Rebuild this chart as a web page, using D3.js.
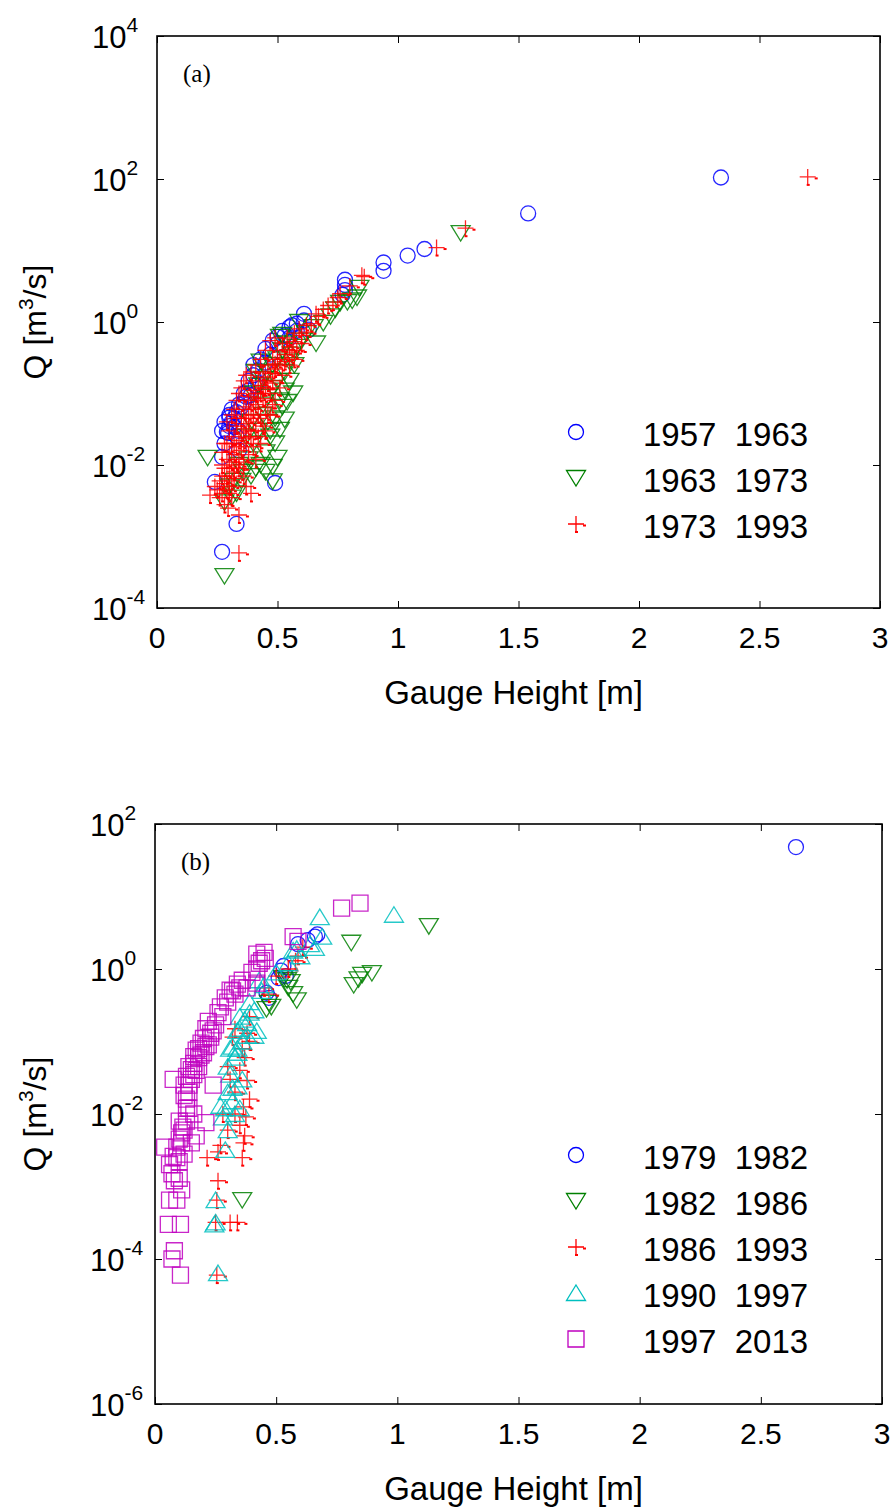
<!DOCTYPE html>
<html>
<head>
<meta charset="utf-8">
<script src="https://cdn.jsdelivr.net/npm/d3@7"></script>
<style>
  body { margin: 0; background: #fff; }
  svg { display: block; }
</style>
</head>
<body>
<div id="chart"></div>
<script>
// ---- data: [gauge height (m), Q (m3/s)] ----

// panel (a)
var circlesA = [
  [2.34, 105], [1.54, 33], [1.11, 10.5], [1.04, 8.5], [0.94, 6.8], [0.94, 5.2],
  [0.78, 3.9], [0.78, 3.3], [0.78, 2.8], [0.77, 2.4], [0.61, 1.3], [0.61, 1.05],
  [0.63, 0.78], [0.58, 0.95], [0.55, 0.85], [0.52, 0.75], [0.50, 0.62], [0.45, 0.42],
  [0.45, 0.27], [0.42, 0.21], [0.42, 0.14], [0.41, 0.13], [0.39, 0.095], [0.37, 0.09],
  [0.36, 0.074], [0.35, 0.065], [0.33, 0.055], [0.30, 0.05], [0.30, 0.046], [0.32, 0.034],
  [0.29, 0.029], [0.295, 0.028], [0.31, 0.04], [0.33, 0.025], [0.34, 0.03], [0.27, 0.013],
  [0.24, 0.0058], [0.49, 0.0056], [0.33, 0.0015], [0.27, 0.00061], [0.38, 0.11], [0.40, 0.18],
  [0.47, 0.35], [0.50, 0.5], [0.55, 0.6], [0.56, 0.9], [0.34, 0.016],
  [0.28, 0.02], [0.30, 0.035], [0.31, 0.06], [0.32, 0.045], [0.34, 0.07], [0.36, 0.1],
  [0.38, 0.15], [0.40, 0.25], [0.43, 0.3], [0.48, 0.55], [0.53, 0.65], [0.58, 0.75],
  [0.28, 0.04], [0.27, 0.03]
];
var trianglesA = [
  [1.26, 17.5], [0.84, 3.0], [0.83, 2.2], [0.81, 2.0], [0.79, 1.9], [0.76, 1.85],
  [0.74, 1.5], [0.72, 1.2], [0.69, 0.97], [0.65, 0.85], [0.59, 1.0], [0.51, 0.62],
  [0.52, 0.66], [0.60, 0.55], [0.58, 0.45], [0.56, 0.35], [0.55, 0.28], [0.43, 0.28],
  [0.41, 0.2], [0.53, 0.2], [0.565, 0.10], [0.54, 0.076], [0.52, 0.065], [0.53, 0.043],
  [0.51, 0.031], [0.49, 0.02], [0.50, 0.0126], [0.48, 0.0094], [0.48, 0.0059], [0.47, 0.025],
  [0.46, 0.04], [0.45, 0.015], [0.44, 0.05], [0.42, 0.03], [0.40, 0.02], [0.38, 0.012],
  [0.36, 0.008], [0.35, 0.006], [0.33, 0.004], [0.21, 0.0126], [0.28, 0.003], [0.28, 0.00028],
  [0.31, 0.0035], [0.50, 0.15], [0.48, 0.12], [0.46, 0.09], [0.44, 0.07], [0.62, 0.7],
  [0.66, 0.5], [0.57, 0.25], [0.39, 0.04], [0.37, 0.025],
  [0.40, 0.1], [0.42, 0.13], [0.44, 0.16], [0.46, 0.2], [0.48, 0.25], [0.50, 0.3],
  [0.52, 0.4], [0.54, 0.5], [0.49, 0.045], [0.47, 0.03], [0.51, 0.08], [0.53, 0.11],
  [0.55, 0.15], [0.43, 0.01], [0.41, 0.009], [0.39, 0.007], [0.45, 0.008], [0.34, 0.01],
  [0.32, 0.006], [0.30, 0.005]
];
var plusesA = [
  [2.70, 107], [1.28, 20.5], [1.16, 11], [0.86, 4.3], [0.85, 4.5], [0.80, 3.2],
  [0.76, 2.5], [0.75, 2.2], [0.73, 1.9], [0.71, 1.7], [0.69, 1.5], [0.67, 1.2],
  [0.66, 1.3], [0.64, 0.95], [0.62, 0.72], [0.60, 0.65], [0.565, 0.53], [0.60, 0.5],
  [0.55, 0.45], [0.54, 0.41], [0.53, 0.35], [0.51, 0.3], [0.50, 0.25], [0.49, 0.22],
  [0.47, 0.19], [0.48, 0.15], [0.46, 0.14], [0.45, 0.12], [0.44, 0.12], [0.43, 0.1],
  [0.44, 0.085], [0.42, 0.08], [0.41, 0.07], [0.40, 0.06], [0.42, 0.05], [0.39, 0.05],
  [0.38, 0.045], [0.40, 0.04], [0.37, 0.038], [0.36, 0.032], [0.38, 0.03], [0.35, 0.028],
  [0.37, 0.024], [0.34, 0.022], [0.36, 0.02], [0.33, 0.018], [0.35, 0.016], [0.32, 0.014],
  [0.34, 0.012], [0.31, 0.011], [0.33, 0.01], [0.30, 0.009], [0.32, 0.008], [0.29, 0.007],
  [0.31, 0.006], [0.28, 0.0055], [0.30, 0.005], [0.29, 0.0045], [0.22, 0.0038], [0.295, 0.0025],
  [0.34, 0.002], [0.34, 0.00059], [0.39, 0.004], [0.37, 0.005], [0.36, 0.007], [0.41, 0.012],
  [0.43, 0.02], [0.45, 0.03], [0.47, 0.05], [0.49, 0.08], [0.51, 0.12], [0.52, 0.18],
  [0.55, 0.25], [0.57, 0.3], [0.58, 0.4], [0.52, 0.5], [0.50, 0.4], [0.48, 0.3],
  [0.46, 0.25], [0.44, 0.2], [0.42, 0.15], [0.40, 0.11], [0.38, 0.08], [0.36, 0.06],
  [0.35, 0.045], [0.33, 0.035], [0.32, 0.025], [0.31, 0.02], [0.30, 0.015], [0.29, 0.012],
  [0.28, 0.009], [0.27, 0.007], [0.41, 0.03], [0.39, 0.025], [0.43, 0.045], [0.45, 0.065],
  [0.47, 0.1], [0.31, 0.0035], [0.27, 0.004], [0.26, 0.006],
  [0.30, 0.03], [0.28, 0.02], [0.27, 0.015], [0.29, 0.04], [0.31, 0.05], [0.32, 0.06],
  [0.33, 0.08], [0.34, 0.1], [0.35, 0.12], [0.36, 0.15], [0.37, 0.18], [0.39, 0.2],
  [0.41, 0.25], [0.43, 0.3], [0.45, 0.4], [0.47, 0.55], [0.49, 0.6], [0.44, 0.035],
  [0.46, 0.05], [0.48, 0.07], [0.42, 0.025], [0.40, 0.018], [0.38, 0.014], [0.36, 0.011],
  [0.34, 0.009], [0.32, 0.0065], [0.30, 0.004], [0.28, 0.0028], [0.26, 0.0035], [0.25, 0.0045],
  [0.24, 0.005], [0.27, 0.01], [0.29, 0.02], [0.33, 0.045], [0.37, 0.065], [0.39, 0.09],
  [0.41, 0.1], [0.43, 0.13], [0.45, 0.17], [0.49, 0.26], [0.53, 0.28], [0.56, 0.38],
  [0.54, 0.6], [0.57, 0.7], [0.59, 0.8], [0.62, 0.9]
];
var legendA = ["1957  1963", "1963  1973", "1973  1993"];

// panel (b)
var circlesB = [
  [2.645, 48], [0.67, 3.0], [0.66, 2.8], [0.63, 2.5], [0.59, 2.2], [0.53, 1.1],
  [0.52, 0.95], [0.54, 0.8], [0.51, 0.75], [0.46, 0.47], [0.47, 0.4]
];
var trianglesB = [
  [1.13, 3.9], [0.81, 2.3], [0.895, 0.88], [0.855, 0.83], [0.84, 0.72], [0.82, 0.6],
  [0.585, 0.37], [0.47, 0.34], [0.545, 0.7], [0.56, 0.66], [0.53, 0.75], [0.57, 0.45],
  [0.48, 0.3], [0.46, 0.28], [0.36, 0.00065], [0.55, 0.55]
];
var plusesB = [
  [0.59, 1.5], [0.61, 2.0], [0.58, 1.3], [0.45, 0.55], [0.47, 0.45], [0.39, 0.22],
  [0.38, 0.13], [0.32, 0.115], [0.39, 0.1], [0.33, 0.15], [0.36, 0.08], [0.30, 0.045],
  [0.38, 0.029], [0.39, 0.016], [0.365, 0.0125], [0.375, 0.0091], [0.35, 0.007], [0.27, 0.0037],
  [0.365, 0.004], [0.215, 0.0025], [0.36, 0.0025], [0.26, 0.0012], [0.255, 0.00065], [0.25, 0.00032],
  [0.34, 0.00032], [0.31, 0.00032], [0.255, 0.00006], [0.33, 0.02], [0.31, 0.03], [0.28, 0.01],
  [0.30, 0.006], [0.37, 0.06], [0.35, 0.04], [0.33, 0.01], [0.37, 0.005], [0.26, 0.003],
  [0.50, 0.8], [0.55, 1.0]
];
var upTrianglesB = [
  [0.986, 5.6], [0.68, 5.2], [0.69, 2.8], [0.66, 1.95], [0.57, 1.8], [0.585, 1.9],
  [0.43, 0.7], [0.41, 0.27], [0.39, 0.25], [0.35, 0.22], [0.42, 0.14], [0.34, 0.14],
  [0.34, 0.08], [0.32, 0.085], [0.37, 0.2], [0.38, 0.18], [0.35, 0.15], [0.38, 0.12],
  [0.41, 0.12], [0.31, 0.08], [0.34, 0.07], [0.30, 0.045], [0.32, 0.023], [0.34, 0.024],
  [0.27, 0.013], [0.29, 0.012], [0.33, 0.01], [0.28, 0.009], [0.30, 0.006], [0.29, 0.0032],
  [0.25, 0.00065], [0.25, 0.00032], [0.245, 0.0003], [0.26, 0.000064], [0.44, 0.5], [0.39, 0.35],
  [0.55, 1.2], [0.36, 0.1], [0.33, 0.06], [0.31, 0.035], [0.36, 0.03], [0.30, 0.02],
  [0.32, 0.015], [0.35, 0.012], [0.45, 0.6], [0.50, 0.9], [0.60, 1.5], [0.64, 2.2]
];
var squaresB = [
  [0.846, 8.1], [0.77, 6.9], [0.57, 2.8], [0.59, 2.4], [0.45, 1.7], [0.42, 1.6],
  [0.455, 1.4], [0.43, 1.2], [0.42, 1.0], [0.36, 0.7], [0.34, 0.62], [0.31, 0.51],
  [0.33, 0.45], [0.29, 0.4], [0.27, 0.3], [0.26, 0.25], [0.42, 0.64], [0.38, 0.55],
  [0.22, 0.19], [0.21, 0.15], [0.23, 0.115], [0.19, 0.095], [0.17, 0.076], [0.16, 0.062],
  [0.28, 0.22], [0.24, 0.14], [0.20, 0.11], [0.18, 0.08], [0.15, 0.041], [0.075, 0.03],
  [0.24, 0.025], [0.13, 0.033], [0.13, 0.016], [0.13, 0.012], [0.14, 0.02], [0.12, 0.025],
  [0.21, 0.0076], [0.115, 0.0066], [0.11, 0.0055], [0.17, 0.005], [0.04, 0.0035], [0.10, 0.0045],
  [0.15, 0.004], [0.075, 0.0026], [0.06, 0.002], [0.10, 0.0022], [0.08, 0.0012], [0.11, 0.0009],
  [0.06, 0.00065], [0.09, 0.00065], [0.055, 0.0003], [0.105, 0.0003], [0.08, 0.00013], [0.07, 0.0001],
  [0.105, 0.00006], [0.14, 0.045], [0.12, 0.018], [0.10, 0.008], [0.16, 0.01], [0.09, 0.0035],
  [0.18, 0.06], [0.16, 0.05], [0.17, 0.04], [0.15, 0.03], [0.14, 0.025], [0.16, 0.035],
  [0.18, 0.045], [0.20, 0.07], [0.22, 0.09], [0.25, 0.17], [0.30, 0.35], [0.32, 0.5],
  [0.35, 0.55], [0.13, 0.008], [0.12, 0.006], [0.14, 0.012], [0.11, 0.004], [0.09, 0.0025],
  [0.12, 0.0028], [0.07, 0.0015], [0.10, 0.0013], [0.23, 0.13], [0.19, 0.065], [0.21, 0.085],
  [0.40, 0.9], [0.44, 1.3]
];
var legendB = ["1979  1982", "1982  1986", "1986  1993", "1990  1997", "1997  2013"];

var xTicks = [0, 0.5, 1, 1.5, 2, 2.5, 3];
var yTicksA = [1e-4, 1e-2, 1, 1e2, 1e4];
var yTicksB = [1e-6, 1e-4, 1e-2, 1, 1e2];

// ---- drawing ----
var font = "'Liberation Sans', Arial, Helvetica, sans-serif";

var svg = d3.select("#chart").append("svg")
    .attr("width", 894)
    .attr("height", 1509);

// Marker shapes centred on 0,0
function markerPath(type) {
    if (type === "circle") return "M7.5,0A7.5,7.5 0 1,1 -7.5,0A7.5,7.5 0 1,1 7.5,0Z";
    if (type === "down") return "M-9.5,-7.5L9.5,-7.5L0,8Z";
    if (type === "up") return "M0,-8L9.5,7.5L-9.5,7.5Z";
    if (type === "square") return "M-8,-8H8V8H-8Z";
    return "M-8,0H8M0,-8V8";
}

function drawMarkers(g, data, type, color, xScale, yScale) {
    var sel = g.append("g").selectAll("path")
        .data(data)
        .enter()
        .append("g")
        .attr("transform", function(d) {
            return "translate(" + xScale(d[0]) + "," + yScale(d[1]) + ")";
        });
    sel.append("path")
        .attr("d", markerPath(type))
        .attr("fill", "none")
        .attr("stroke", color)
        .attr("stroke-width", 1.3)
        .attr("stroke-opacity", 0.85);
    if (type === "plus") {
        // little matlab-ish tails on the plus marker
        sel.append("rect").attr("x", 7).attr("y", 0.5).attr("width", 3).attr("height", 2).attr("fill", color);
        sel.append("rect").attr("x", -1).attr("y", 7).attr("width", 3).attr("height", 2).attr("fill", color);
    }
}

function drawPanel(cfg) {
    var xScale = d3.scaleLinear().domain([0, 3]).range([cfg.left, cfg.right]);
    var yScale = d3.scaleLog().domain(cfg.yDomain).range([cfg.bottom, cfg.top]);

    var g = svg.append("g");

    // inward ticks on all four sides
    g.append("g")
        .attr("transform", "translate(0," + cfg.bottom + ")")
        .call(d3.axisBottom(xScale).tickValues(xTicks).tickSizeInner(-7).tickSizeOuter(0).tickFormat(""))
        .call(function(a) { a.select(".domain").remove(); });
    g.append("g")
        .attr("transform", "translate(0," + cfg.top + ")")
        .call(d3.axisTop(xScale).tickValues(xTicks).tickSizeInner(-7).tickSizeOuter(0).tickFormat(""))
        .call(function(a) { a.select(".domain").remove(); });
    g.append("g")
        .attr("transform", "translate(" + cfg.left + ",0)")
        .call(d3.axisLeft(yScale).tickValues(cfg.yTicks).tickSizeInner(-7).tickSizeOuter(0).tickFormat(""))
        .call(function(a) { a.select(".domain").remove(); });
    g.append("g")
        .attr("transform", "translate(" + cfg.right + ",0)")
        .call(d3.axisRight(yScale).tickValues(cfg.yTicks).tickSizeInner(-7).tickSizeOuter(0).tickFormat(""))
        .call(function(a) { a.select(".domain").remove(); });
    g.selectAll(".tick line").attr("stroke", "#000").attr("stroke-width", 1);

    // box
    g.append("rect")
        .attr("x", cfg.left)
        .attr("y", cfg.top)
        .attr("width", cfg.right - cfg.left)
        .attr("height", cfg.bottom - cfg.top)
        .attr("fill", "none")
        .attr("stroke", "#000")
        .attr("stroke-width", 1.6);

    // x tick labels
    g.selectAll(".xlab")
        .data(xTicks)
        .enter()
        .append("text")
        .attr("x", function(d) { return xScale(d); })
        .attr("y", cfg.bottom + 40)
        .attr("text-anchor", "middle")
        .attr("font-family", font)
        .attr("font-size", 30)
        .text(function(d) { return d3.format("")(d); });

    // y tick labels as 10^n
    var yl = g.selectAll(".ylab")
        .data(cfg.yTicks)
        .enter()
        .append("text")
        .attr("x", cfg.left - 65)
        .attr("y", function(d) { return yScale(d) + 12; })
        .attr("font-family", font)
        .attr("font-size", 31);
    yl.append("tspan").text("10");
    yl.append("tspan")
        .attr("dy", -16)
        .attr("font-size", 21)
        .text(function(d) { return Math.round(Math.log10(d)); });

    // markers
    cfg.series.forEach(function(s) {
        drawMarkers(g, s.data, s.type, s.color, xScale, yScale);
    });

    // panel tag
    g.append("text")
        .attr("x", cfg.left + 26)
        .attr("y", cfg.top + 46)
        .attr("font-family", "'Liberation Serif', 'Times New Roman', serif")
        .attr("font-size", 25)
        .text(cfg.tag);

    // legend
    cfg.series.forEach(function(s, i) {
        var ly = cfg.legendTop + i * cfg.legendStep;
        var lg = g.append("g").attr("transform", "translate(576," + ly + ")");
        lg.append("path")
            .attr("d", markerPath(s.type))
            .attr("fill", "none")
            .attr("stroke", s.color)
            .attr("stroke-width", 1.3);
        if (s.type === "plus") {
            lg.append("rect").attr("x", 7).attr("y", 0.5).attr("width", 3).attr("height", 2).attr("fill", s.color);
            lg.append("rect").attr("x", -1).attr("y", 7).attr("width", 3).attr("height", 2).attr("fill", s.color);
        }
        g.append("text")
            .attr("x", 643)
            .attr("y", ly + 14)
            .attr("font-family", font)
            .attr("font-size", 33)
            .attr("xml:space", "preserve")
            .style("white-space", "pre")
            .text(s.label);
    });

    // axis titles
    g.append("text")
        .attr("x", (cfg.left + cfg.right) / 2 - 5)
        .attr("y", cfg.bottom + 96)
        .attr("text-anchor", "middle")
        .attr("font-family", font)
        .attr("font-size", 33)
        .text("Gauge Height [m]");

    var yt = g.append("text")
        .attr("transform", "translate(46," + ((cfg.top + cfg.bottom) / 2) + ") rotate(-90)")
        .attr("text-anchor", "middle")
        .attr("font-family", font)
        .attr("font-size", 32);
    yt.append("tspan").text("Q [m");
    yt.append("tspan").attr("dy", -13).attr("font-size", 21).text("3");
    yt.append("tspan").attr("dy", 13).text("/s]");
}

drawPanel({
    left: 157, right: 880, top: 36, bottom: 608,
    yDomain: [1e-4, 1e4], yTicks: yTicksA, tag: "(a)",
    legendTop: 432, legendStep: 46,
    series: [
        { data: circlesA, type: "circle", color: "#0000ff", label: legendA[0] },
        { data: trianglesA, type: "down", color: "#008000", label: legendA[1] },
        { data: plusesA, type: "plus", color: "#ff0000", label: legendA[2] }
    ]
});

drawPanel({
    left: 155, right: 882, top: 824, bottom: 1404,
    yDomain: [1e-6, 1e2], yTicks: yTicksB, tag: "(b)",
    legendTop: 1155, legendStep: 46,
    series: [
        { data: circlesB, type: "circle", color: "#0000ff", label: legendB[0] },
        { data: trianglesB, type: "down", color: "#008000", label: legendB[1] },
        { data: plusesB, type: "plus", color: "#ff0000", label: legendB[2] },
        { data: upTrianglesB, type: "up", color: "#00bfbf", label: legendB[3] },
        { data: squaresB, type: "square", color: "#bf00bf", label: legendB[4] }
    ]
});
</script>
</body>
</html>
